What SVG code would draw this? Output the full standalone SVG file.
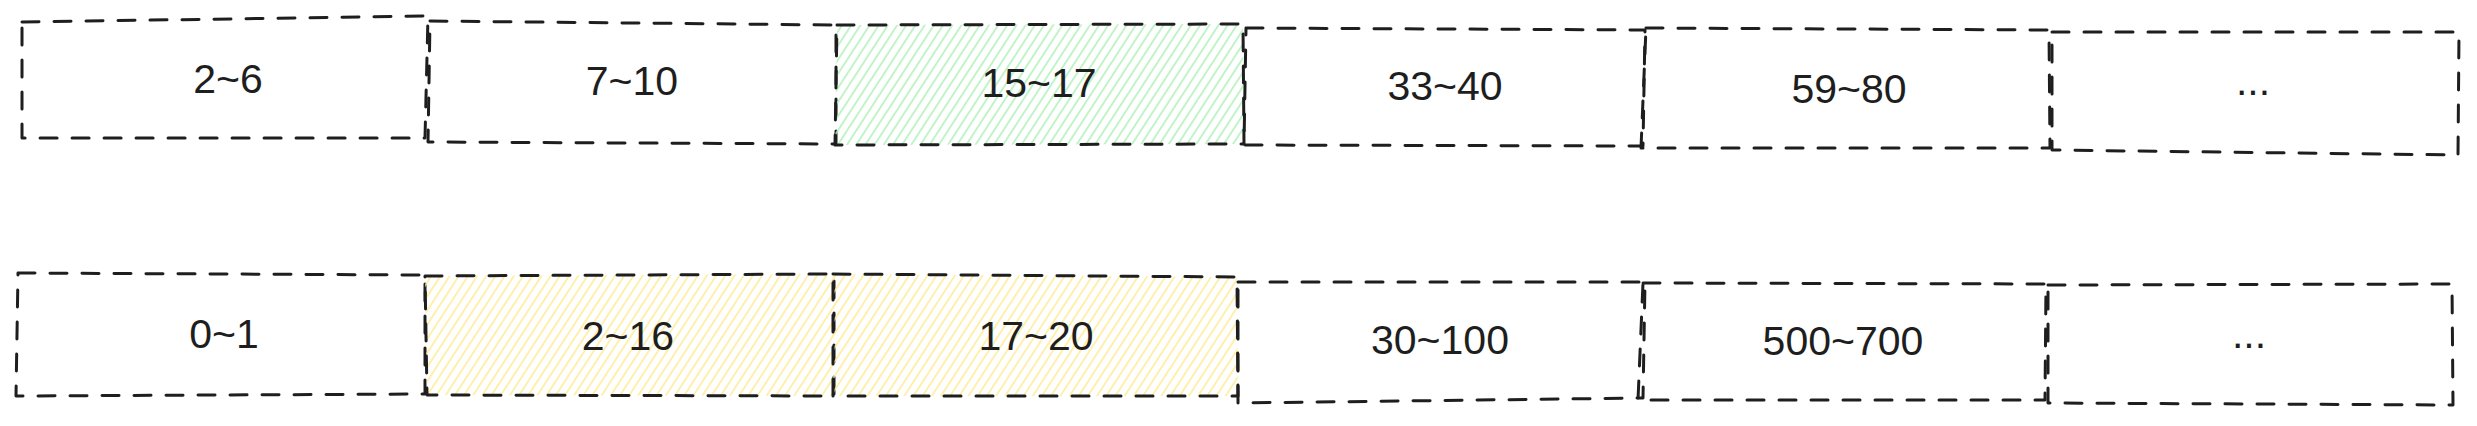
<svg xmlns="http://www.w3.org/2000/svg" width="2477" height="426" viewBox="0 0 2477 426">
<defs>
<pattern id="hg" patternUnits="userSpaceOnUse" width="7.7" height="20" patternTransform="rotate(33)">
<line x1="3.8" y1="-2" x2="3.8" y2="22" stroke="#b2f2bb" stroke-width="1.6"/>
</pattern>
<pattern id="hy" patternUnits="userSpaceOnUse" width="7.7" height="20" patternTransform="rotate(33)">
<line x1="3.8" y1="-2" x2="3.8" y2="22" stroke="#ffec99" stroke-width="1.6"/>
</pattern>
</defs>
<style>
.box{fill:none;stroke:#1e1e1e;stroke-width:3;stroke-dasharray:17 15;stroke-linecap:round;stroke-linejoin:round}
.lbl{font-family:"Liberation Sans",Arial,sans-serif;font-size:41px;fill:#1e1e1e;text-anchor:middle}
</style>
<rect width="2477" height="426" fill="#ffffff"/>
<g id="t1"><path class="box" d="M22,22 L428,16 L425,138 L22,138 Z"/><text class="lbl" x="228" y="93">2~6</text></g>
<g id="t2"><path class="box" d="M430,21 L836,25 L836,144 L428,142 Z"/><text class="lbl" x="632" y="95">7~10</text></g>
<g id="t3"><path d="M837,25 L1243,24 L1244,144 L835,145 Z" fill="url(#hg)"/><path class="box" d="M837,25 L1243,24 L1244,144 L835,145 Z"/><text class="lbl" x="1039" y="97">15~17</text></g>
<g id="t4"><path class="box" d="M1246,28 L1645,30 L1643,146 L1244,145 Z"/><text class="lbl" x="1445" y="100">33~40</text></g>
<g id="t5"><path class="box" d="M1646,28 L2049,30 L2050,148 L1641,148 Z"/><text class="lbl" x="1849" y="103">59~80</text></g>
<g id="t6"><path class="box" d="M2052,32 L2459,32 L2458,155 L2052,150 Z"/><text class="lbl" x="2253" y="95">...</text></g>
<g id="b1"><path class="box" d="M18,273 L425,275 L425,394 L16,396 Z"/><text class="lbl" x="224" y="348">0~1</text></g>
<g id="b2"><path d="M425,276 L834,274 L834,396 L427,395 Z" fill="url(#hy)"/><path class="box" d="M425,276 L834,274 L834,396 L427,395 Z"/><text class="lbl" x="628" y="350">2~16</text></g>
<g id="b3"><path d="M833,274 L1237,277 L1238,396 L833,396 Z" fill="url(#hy)"/><path class="box" d="M833,274 L1237,277 L1238,396 L833,396 Z"/><text class="lbl" x="1036" y="350">17~20</text></g>
<g id="b4"><path class="box" d="M1238,282 L1645,282 L1643,398 L1238,403 Z"/><text class="lbl" x="1440" y="354">30~100</text></g>
<g id="b5"><path class="box" d="M1643,283 L2046,284 L2045,400 L1638,400 Z"/><text class="lbl" x="1843" y="355">500~700</text></g>
<g id="b6"><path class="box" d="M2048,285 L2452,284 L2453,405 L2048,403 Z"/><text class="lbl" x="2249" y="348">...</text></g>
<g id="connectors"></g>
</svg>
